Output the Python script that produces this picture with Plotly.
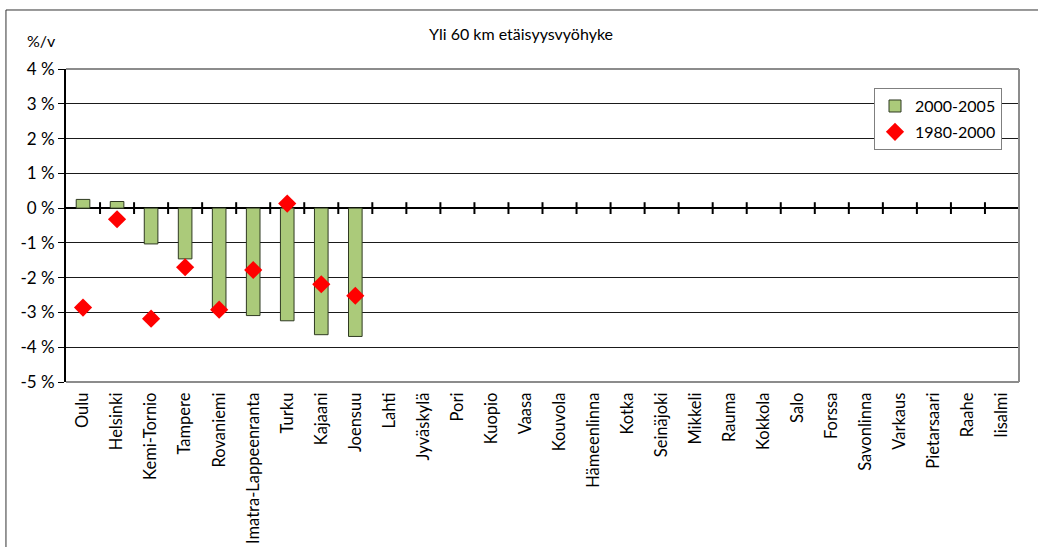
import plotly.graph_objects as go

# Kaupunkiseudut ja vuotuinen väestönmuutos (%/v), yli 60 km etäisyysvyöhyke
cities = ["Oulu", "Helsinki", "Kemi-Tornio", "Tampere", "Rovaniemi",
          "Imatra-Lappeenranta", "Turku", "Kajaani", "Joensuu", "Lahti",
          "Jyväskylä", "Pori", "Kuopio", "Vaasa", "Kouvola", "Hämeenlinna",
          "Kotka", "Seinäjoki", "Mikkeli", "Rauma", "Kokkola", "Salo",
          "Forssa", "Savonlinna", "Varkaus", "Pietarsaari", "Raahe", "Iisalmi"]

change_2000_2005 = [0.25, 0.19, -1.03, -1.46, -2.93, -3.09, -3.24, -3.64, -3.69] + [None] * 19
change_1980_2000 = [-2.86, -0.32, -3.18, -1.70, -2.92, -1.78, 0.13, -2.19, -2.52] + [None] * 19

y_ticks = [4, 3, 2, 1, 0, -1, -2, -3, -4, -5]
y_tick_text = [f"{v} %" for v in y_ticks]

FONT = "Lato"
x_idx = list(range(len(cities)))

fig = go.Figure()
fig.add_trace(go.Bar(
    x=x_idx, y=change_2000_2005, name="2000-2005", width=0.4,
    marker=dict(color="#ABCA7A", line=dict(color="#2f3a22", width=1)),
    legendgroup="a",
))
fig.add_trace(go.Scatter(
    x=x_idx, y=change_1980_2000, name="1980-2000", mode="markers",
    marker=dict(symbol="diamond", size=14, color="#FF0000"),
    legendgroup="b",
))

# cross ticks on the zero line at category boundaries
shapes = []
for k in range(len(cities)):
    b = k + 0.5
    shapes.append(dict(type="line", xref="x", yref="y", x0=b, x1=b, y0=-0.17, y1=0.17,
                       line=dict(color="black", width=2), layer="above"))

# plot-area frame (top, right, bottom)
frame = dict(color="#8c8c8c", width=2)
shapes += [
    dict(type="line", xref="paper", yref="paper", x0=0, x1=1, y0=1, y1=1, line=frame),
    dict(type="line", xref="paper", yref="paper", x0=1, x1=1, y0=0, y1=1, line=frame),
    dict(type="line", xref="paper", yref="paper", x0=0, x1=1, y0=0, y1=0, line=frame),
]
# outer chart frame
outer = dict(color="#333333", width=1)
shapes += [
    dict(type="line", xref="paper", yref="paper", x0=-0.063, x1=1.05, y0=1.1885, y1=1.1885, line=outer),
    dict(type="line", xref="paper", yref="paper", x0=-0.063, x1=-0.063, y0=-0.6, y1=1.1885, line=outer),
]

fig.update_layout(
    width=1038, height=547,
    margin=dict(l=66, r=19, t=69, b=165),
    paper_bgcolor="white", plot_bgcolor="white",
    font=dict(family=FONT, size=17, color="black"),
    showlegend=True,
    legend=dict(x=(874 - 66) / 953, y=0.939, xanchor="left", yanchor="top",
                bgcolor="white", bordercolor="#7f7f7f", borderwidth=1,
                font=dict(family=FONT, size=16), itemwidth=30,
                traceorder="grouped", tracegroupgap=2),
    shapes=shapes,
    annotations=[
        dict(text="Yli 60 km etäisyysvyöhyke", xref="paper", yref="paper",
             x=(521 - 66) / 953, y=(382 - 33) / 313, showarrow=False,
             xanchor="center", yanchor="middle",
             font=dict(family=FONT, size=16)),
        dict(text="%/v", xref="paper", yref="paper",
             x=(41 - 66) / 953, y=(382 - 40) / 313, showarrow=False,
             xanchor="center", yanchor="middle",
             font=dict(family=FONT, size=16)),
    ],
    bargap=0.6,
)

# invisible ticks give the rotated city names their gap below the frame
fig.update_xaxes(
    range=[-0.5, len(cities) - 0.5], automargin=False,
    tickmode="array", tickvals=x_idx, ticktext=cities, tickangle=-90,
    ticks="outside", ticklen=3, tickcolor="rgba(0,0,0,0)",
    showgrid=False, showline=False, zeroline=False,
    tickfont=dict(family=FONT, size=16.5),
)
fig.update_yaxes(
    range=[-5, 4], automargin=False,
    tickmode="array", tickvals=y_ticks, ticktext=y_tick_text,
    showgrid=True, gridcolor="#1a1a1a", gridwidth=1,
    zeroline=True, zerolinecolor="black", zerolinewidth=2,
    showline=True, linecolor="black", linewidth=2,
    ticks="outside", ticklen=6, tickcolor="black", tickwidth=1,
    tickfont=dict(family=FONT, size=17),
)

fig.write_html("out.html")
